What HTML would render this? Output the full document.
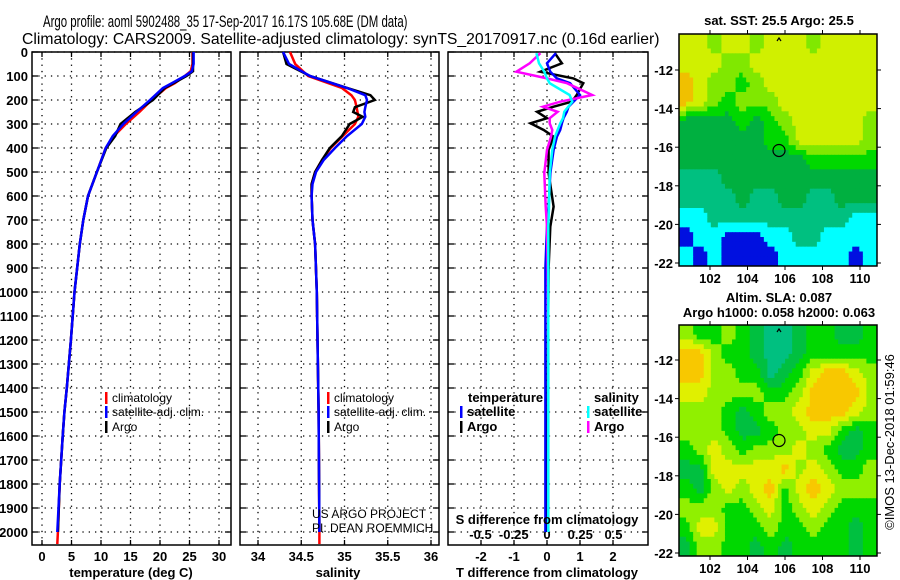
<!DOCTYPE html>
<html><head><meta charset="utf-8"><style>
html,body{margin:0;padding:0;background:#fff;}
svg{display:block;font-family:"Liberation Sans",Arial,sans-serif;}
.tk{font-size:13px;font-weight:bold;fill:#000;}
.lg{font-size:12px;fill:#000;}
</style></head><body>
<svg id="fig" width="900" height="580" viewBox="0 0 900 580" xmlns="http://www.w3.org/2000/svg">
<text id="t1" x="0" y="0" font-size="17">Argo profile: aoml 5902488_35 17-Sep-2017 16.17S 105.68E (DM data)</text>
<text id="t2" x="0" y="0" font-size="16">Climatology: CARS2009. Satellite-adjusted climatology: synTS_20170917.nc (0.16d earlier)</text>
<g id="plots"></g>
</svg>
<script>
// ---- profile data ----
const tDepth = [0,50,80,100,130,150,200,250,300,350,400,500,600,700,800,1000,1200,1400,1500,1600,1800,2000,2050];
const tClim  = [25.5,25.5,25.2,24.2,22.5,21.0,18.6,16.5,14.2,12.2,10.8,9.3,7.8,7.0,6.4,5.5,4.9,4.2,3.8,3.5,3.0,2.7,2.6];
const tSat   = [25.7,25.7,25.4,24.2,22.0,20.5,18.3,16.0,13.8,12.0,10.8,9.3,7.8,7.0,6.4,5.5,4.9,4.2,3.8,3.5,3.0,2.6,2.5];
const tArgo  = [25.6,25.6,25.6,24.5,22.3,20.8,18.8,15.8,13.3,12.4,10.9,9.3,7.8,7.0,6.4,5.5,4.9,4.2,3.8,3.5,3.0,2.7,2.7];
const sDepth = [0,50,100,150,180,200,230,250,270,300,350,400,450,500,550,600,700,800,1000,1500,2000,2050];
const sArgo  = [34.29,34.33,34.6,35.03,35.3,35.35,35.12,35.1,35.21,35.06,34.97,34.83,34.74,34.66,34.62,34.62,34.63,34.66,34.68,34.70,34.71,34.71];
const sClim  = [34.37,34.43,34.58,34.97,35.08,35.12,35.14,35.15,35.16,35.12,34.98,34.84,34.74,34.66,34.62,34.62,34.63,34.66,34.68,34.70,34.71,34.71];
const sSat   = [34.29,34.36,34.6,35.03,35.24,35.26,35.24,35.23,35.24,35.2,35.03,34.89,34.76,34.67,34.63,34.62,34.63,34.66,34.68,34.70,34.71,34.71];
const dDepth = [5,47,82,110,130,179,207,228,249,276,297,325,353,408,505,644,728,900,1200,1600,2000];
const dtArgo = [0.24,0.45,-0.2,0.8,1.1,0.9,0.75,0.2,-0.3,0,-0.5,-0.1,0.2,0.05,0.05,0.2,0.1,0.05,0.03,0.02,0.0];
const dtSat  = [0.27,0,0.1,0.3,0.7,1.0,0.8,0.65,0.6,0.5,0.45,0.4,0.3,0.2,0.1,0.05,0,-0.05,-0.05,-0.05,-0.05];
const dsArgo = [-0.05,-0.13,-0.23,0,0.15,0.34,0.1,-0.03,0.08,0.02,0.02,0.04,0.03,0.0,-0.02,-0.01,0,0.005,0.01,0.01,0.01];
const dsSat  = [-0.08,-0.06,-0.02,0.0,0.02,0.17,0.19,0.16,0.13,0.12,0.1,0.08,0.06,0.04,0.02,0.015,0.01,0.01,0.01,0.01,0.01];
const depthTicks = [0,100,200,300,400,500,600,700,800,900,1000,1100,1200,1300,1400,1500,1600,1700,1800,1900,2000];
const tTicks = [0,5,10,15,20,25,30];
const sTicks = [34,34.5,35,35.5,36];
const sTickLabels = ["34","34.5","35","35.5","36"];
const dtTicks = [-2,-1,0,1,2];
const dsTicks = [-0.5,-0.25,0,0.25,0.5];
const dsTickLabels = ["-0.5","-0.25","0","0.25","0.5"];
// ---- map data (level indices, 12 rows x 14 cols) ----
const sstGrid = [
[6,6,5,6,6,5,6,6,6,5,6,6,6,6],
[6,6,6,5,5,6,6,6,6,6,6,6,6,6],
[7,6,5,5,4,5,6,6,6,6,6,6,6,6],
[7,6,5,4,5,5,5,6,6,6,6,6,6,6],
[3,3,3,3,4,3,4,5,6,6,6,6,6,5],
[3,3,3,3,3,3,4,4,6,6,6,6,6,5],
[3,3,3,3,3,3,3,3,3,4,4,4,4,4],
[2,2,2,3,3,3,3,3,3,3,3,3,3,3],
[2,2,2,2,3,2,2,3,3,2,2,3,3,3],
[1,1,2,2,2,2,2,2,2,2,2,2,1,1],
[0,1,1,0,0,0,1,1,2,2,1,1,1,1],
[1,0,1,0,0,0,0,1,1,1,1,1,0,1]];
const slaGrid = [
[5,4,4,5,4,3,2,2,3,4,4,3,3,4],
[7,7,5,4,4,3,2,2,3,4,4,4,4,4],
[7,7,5,5,4,4,2,3,4,6,7,7,6,5],
[6,6,5,5,5,5,4,4,5,7,7,7,7,5],
[5,5,5,4,3,4,5,5,6,7,7,7,6,5],
[5,5,5,4,3,3,4,5,5,6,6,4,3,4],
[4,5,6,5,4,5,5,5,6,5,4,3,3,4],
[3,3,6,6,6,6,6,7,5,6,5,4,4,5],
[4,3,5,6,5,6,7,4,6,7,6,5,5,5],
[5,5,5,4,4,5,6,4,5,6,5,4,4,4],
[4,6,6,4,4,4,5,4,4,5,4,4,3,4],
[3,5,5,4,4,3,4,3,4,4,4,4,3,4]];
const levelColors = ["#0010e0","#00ffff","#00c080","#00b040","#00d800","#80e800","#d0f000","#f0c000"];
const slaColors   = ["#0010e0","#00ffff","#00c080","#00c040","#00d800","#90f000","#e0f000","#f8c800"];
const latTicks = [-12,-14,-16,-18,-20,-22];
const lonTicks = [102,104,106,108,110];
const argoLon = 105.68, argoLat = -16.17;

const NS="http://www.w3.org/2000/svg";
const root=document.getElementById('plots');
function mk(tag,attrs,parent){const e=document.createElementNS(NS,tag);for(const k in attrs)e.setAttribute(k,attrs[k]);(parent||root).appendChild(e);return e;}
function txt(s,attrs,parent){const e=mk('text',attrs,parent);e.textContent=s;return e;}

function fitTitle(id,x,y,w){const e=document.getElementById(id);const n=e.getComputedTextLength()||w;e.setAttribute('transform',`translate(${x},${y}) scale(${(w/n).toFixed(4)},1)`);}
fitTitle('t1',43,27,365);
fitTitle('t2',22,44,638);

const Y0=52, Ypx=0.24, YB=545, YT=52;
const yD=d=>Y0+d*Ypx;
const xT=v=>42+v*5.9;
const xS=v=>258+(v-34)*86.5;
const xDT=v=>547+v*33;
const xDS=v=>547+v*133;

function frame(x1,x2,name,gridXs){
  const g=mk('g',{});
  
  
  gridXs.forEach(x=>{const l=mk('line',{x1:x,x2:x,y1:YT,y2:YB,stroke:'#000','stroke-width':1.3,'stroke-dasharray':'1.3 5'},g);
    mk('line',{x1:x,x2:x,y1:YB,y2:YB-5,stroke:'#000','stroke-width':1.3},g);mk('line',{x1:x,x2:x,y1:YT,y2:YT+5,stroke:'#000','stroke-width':1.3},g);});
  depthTicks.forEach(d=>{const y=yD(d);const l=mk('line',{x1:x1,x2:x2,y1:y,y2:y,stroke:'#000','stroke-width':1.3,'stroke-dasharray':'1.3 5'},g);
    mk('line',{x1:x1,x2:x1+6,y1:y,y2:y,stroke:'#000','stroke-width':1.3},g);mk('line',{x1:x2,x2:x2-6,y1:y,y2:y,stroke:'#000','stroke-width':1.3},g);});
  const r=mk('rect',{x:x1,y:YT,width:x2-x1,height:YB-YT,fill:'none',stroke:'#000','stroke-width':1.5},g);
  
  return g;
}
function line(xs,ds,fx,color,name,w){
  const pts=xs.map((v,i)=>fx(v).toFixed(1)+','+yD(ds[i]).toFixed(1)).join(' ');
  const p=mk('polyline',{points:pts,fill:'none',stroke:color,'stroke-width':w||2.5,'stroke-linejoin':'miter'});
  
  
}
function legend(x,y,color,label,name,cls){
  mk('rect',{x:x,y:y-10,width:2.5,height:12,fill:color});
  const t=txt(label,{x:x+7,y:y,class:cls||'lg'});
  
  
}

// Panel 1 temperature
frame(32,231,'temperature-panel',tTicks.map(xT));
depthTicks.forEach(d=>{const t=txt(String(d),{x:28,y:yD(d)+5,class:'tk','text-anchor':'end'});});
tTicks.forEach(v=>{const t=txt(String(v),{x:xT(v),y:561,class:'tk','text-anchor':'middle'});});
line(tClim,tDepth,xT,'#ff0000','temperature-climatology-line');
line(tArgo,tDepth.slice(0,22),xT,'#000000','temperature-argo-line');
line(tSat,tDepth.slice(0,22),xT,'#0000ff','temperature-satellite-line');
legend(105,402,'#ff0000','climatology','legend-climatology');
legend(105,416,'#0000ff','satellite-adj. clim.','legend-satellite-adj');
legend(105,431,'#000000','Argo','legend-argo');
{const t=txt('temperature (deg C)',{x:131,y:577,class:'tk','text-anchor':'middle'});}

// Panel 2 salinity
frame(240,439,'salinity-panel',sTicks.map(xS));
sTicks.forEach((v,i)=>{const t=txt(sTickLabels[i],{x:xS(v),y:561,class:'tk','text-anchor':'middle'});});
line(sClim,sDepth,xS,'#ff0000','salinity-climatology-line');
line(sArgo.slice(0,21),sDepth.slice(0,21),xS,'#000000','salinity-argo-line');
line(sSat.slice(0,21),sDepth.slice(0,21),xS,'#0000ff','salinity-satellite-line');
legend(327,402,'#ff0000','climatology','legend-climatology-2');
legend(327,416,'#0000ff','satellite-adj. clim.','legend-satellite-adj-2');
legend(327,431,'#000000','Argo','legend-argo-2');
{const t=txt('US ARGO PROJECT',{x:312,y:518,class:'lg'});
 const t2=txt('PI: DEAN ROEMMICH',{x:312,y:532,class:'lg'});}
{const t=txt('salinity',{x:338,y:577,class:'tk','text-anchor':'middle'});}

// Panel 3 differences
frame(448,648,'difference-panel',dtTicks.map(xDT));
dtTicks.forEach(v=>{const t=txt(String(v),{x:xDT(v),y:561,class:'tk','text-anchor':'middle'});});
dsTicks.forEach((v,i)=>{const t=txt(dsTickLabels[i],{x:xDS(v),y:539,class:'tk','text-anchor':'middle'});});
line(dtArgo,dDepth,xDT,'#000000','t-diff-argo-line');
line(dtSat,dDepth,xDT,'#0000ff','t-diff-satellite-line');
line(dsArgo,dDepth,xDS,'#ff00ff','s-diff-argo-line');
line(dsSat,dDepth,xDS,'#00ffff','s-diff-satellite-line');
{const t=txt('temperature',{x:468,y:402,class:'tk'});
 const t2=txt('salinity',{x:594,y:402,class:'tk'});}
legend(460,416,'#0000ff','satellite','legend-t-satellite','tk');
legend(460,431,'#000000','Argo','legend-t-argo','tk');
legend(587,416,'#00ffff','satellite','legend-s-satellite','tk');
legend(587,431,'#ff00ff','Argo','legend-s-argo','tk');
{const t=txt('S difference from climatology',{x:547,y:524,class:'tk','text-anchor':'middle'});
 const t2=txt('T difference from climatology',{x:547,y:577,class:'tk','text-anchor':'middle'});}

// Maps (bilinear-upsampled from the level grids)
function sample(grid,fr,fc){
  const rows=grid.length, cols=grid[0].length;
  fr=Math.max(0,Math.min(rows-1,fr)); fc=Math.max(0,Math.min(cols-1,fc));
  const r0=Math.floor(fr), c0=Math.floor(fc), r1=Math.min(rows-1,r0+1), c1=Math.min(cols-1,c0+1);
  const ar=fr-r0, ac=fc-c0;
  return (grid[r0][c0]*(1-ac)+grid[r0][c1]*ac)*(1-ar)+(grid[r1][c0]*(1-ac)+grid[r1][c1]*ac)*ar;
}
function map(grid,colors,top,bottom,name,lat0y,f){
  const L=679,R=877;
  const g=mk('g',{});
  
  
  const rows=grid.length, cols=grid[0].length;
  const nr=rows*f, nc=cols*f;
  const cw=(R-L)/nc, ch=(bottom-top)/nr;
  for(let r=0;r<nr;r++)for(let c=0;c<nc;c++){
    const v=Math.round(sample(grid,(r+0.5)/f-0.5,(c+0.5)/f-0.5));
    const cell=mk('rect',{x:(L+c*cw).toFixed(2),y:(top+r*ch).toFixed(2),width:(cw+0.5).toFixed(2),height:(ch+0.5).toFixed(2),fill:colors[v]},g);
    
    
  }
  const xL=lon=>710+(lon-102)*18.75;
  const yL=lat=>lat0y+(-12-lat)*19.3;
  mk('rect',{x:L,y:top,width:R-L,height:bottom-top,fill:'none',stroke:'#000','stroke-width':1.5},g);
  latTicks.forEach(lat=>{mk('line',{x1:L,x2:L-4,y1:yL(lat),y2:yL(lat),stroke:'#000'},g);mk('line',{x1:R,x2:R+4,y1:yL(lat),y2:yL(lat),stroke:'#000'},g);
    const t=txt(String(lat),{x:673,y:yL(lat)+5,class:'tk','text-anchor':'end'},g);});
  lonTicks.forEach(lon=>{mk('line',{x1:xL(lon),x2:xL(lon),y1:bottom,y2:bottom+4,stroke:'#000'},g);mk('line',{x1:xL(lon),x2:xL(lon),y1:top,y2:top-4,stroke:'#000'},g);
    const t=txt(String(lon),{x:xL(lon),y:bottom+17,class:'tk','text-anchor':'middle'},g);});
  const c=mk('circle',{cx:xL(argoLon),cy:yL(argoLat),r:6,fill:'none',stroke:'#000','stroke-width':1.2},g);
  
  
  mk('path',{d:`M${xL(argoLon)-2},${top+7} l2,-3 l2,3`,fill:'none',stroke:'#000','stroke-width':1.2},g);
}
map(sstGrid,levelColors,34,266,'sst-map',70,4);
map(slaGrid,slaColors,325,556,'sla-map',360,4);
{const t=txt('sat. SST: 25.5 Argo: 25.5',{x:779,y:25,class:'tk','text-anchor':'middle'});
 const t2=txt('Altim. SLA: 0.087',{x:779,y:302,class:'tk','text-anchor':'middle'});
 const t3=txt('Argo h1000: 0.058 h2000: 0.063',{x:779,y:317,class:'tk','text-anchor':'middle'});
 const t4=txt('©IMOS 13-Dec-2018 01:59:46',{x:0,y:0,'font-size':13,transform:'translate(894,442) rotate(-90)','text-anchor':'middle'});}
</script>
</body></html>
